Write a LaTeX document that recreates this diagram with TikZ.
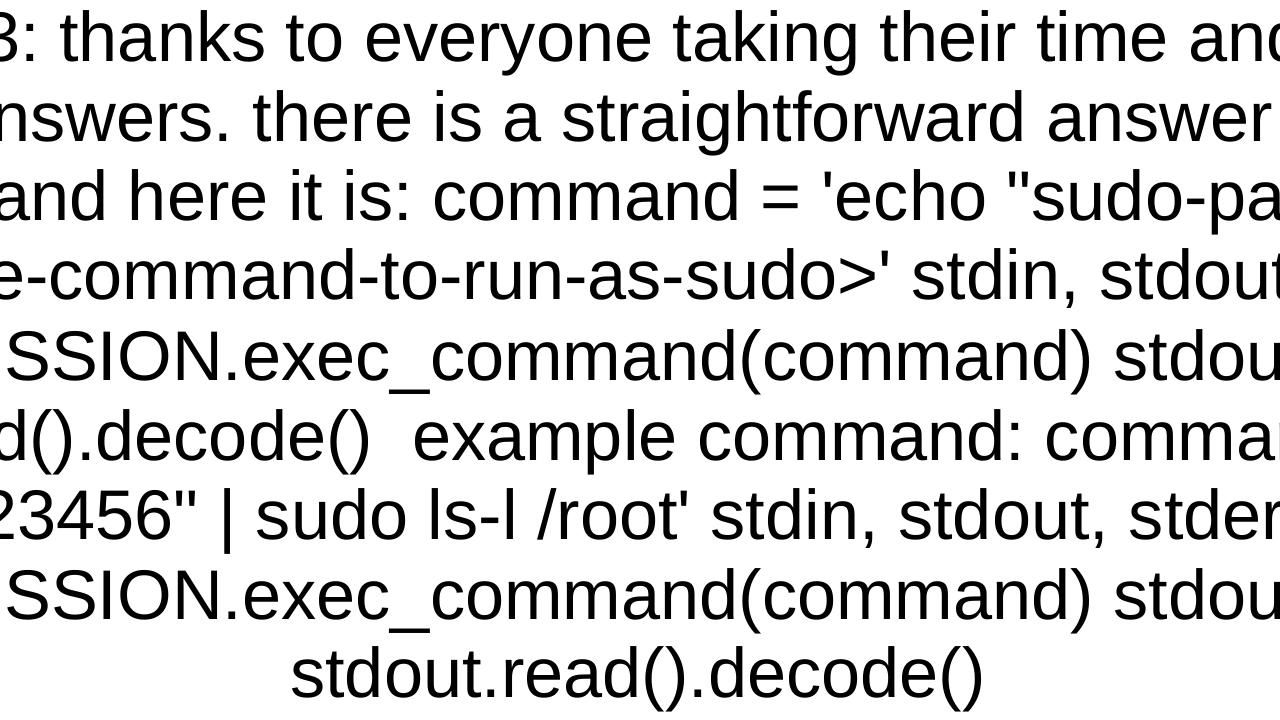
\documentclass[tikz,border=0pt]{standalone}
\usepackage{fontspec}
\setmainfont{Liberation Sans}
\begin{document}
\frenchspacing
\begin{tikzpicture}[x=1pt,y=1pt,ln/.style={anchor=base west,inner sep=0pt,font=\fontsize{70.3}{80}\selectfont}]
\def\q{\textquotesingle}\def\d{\textquotedbl}
\useasboundingbox (0,0) rectangle (1280,720);
\clip (0,0) rectangle (1280,720);
\fill[white] (0,0) rectangle (1280,720);
\node[ln] (l1) at (-19,720-62) {3: thanks to everyone taking their time and};
\node[ln] (l2) at (-48,720-142) {answers. there is a straightforward answer};
\node[ln] (l3) at (-9,720-221) {and here it is: command = \q echo \d sudo-password\d\ | sudo -S};
\node[ln] (l4) at (-14,720-300) {e-command-to-run-as-sudo>\q\ stdin, stdout, stderr =};
\node[ln] (l5) at (4,720-381) {SSION.exec\_command(command) stdout};
\node[ln] (l6) at (-10,720-461) {d().decode() \ example command: command =};
\node[ln] (l7) at (-22,720-540) {23456\d\ | sudo ls-l /root\q\ stdin, stdout, stderr};
\node[ln] (l8) at (4,720-620) {SSION.exec\_command(command) stdout};
\node[ln,anchor=base] (l9) at (638,720-698) {stdout.read().decode()};
\end{tikzpicture}
\end{document}
